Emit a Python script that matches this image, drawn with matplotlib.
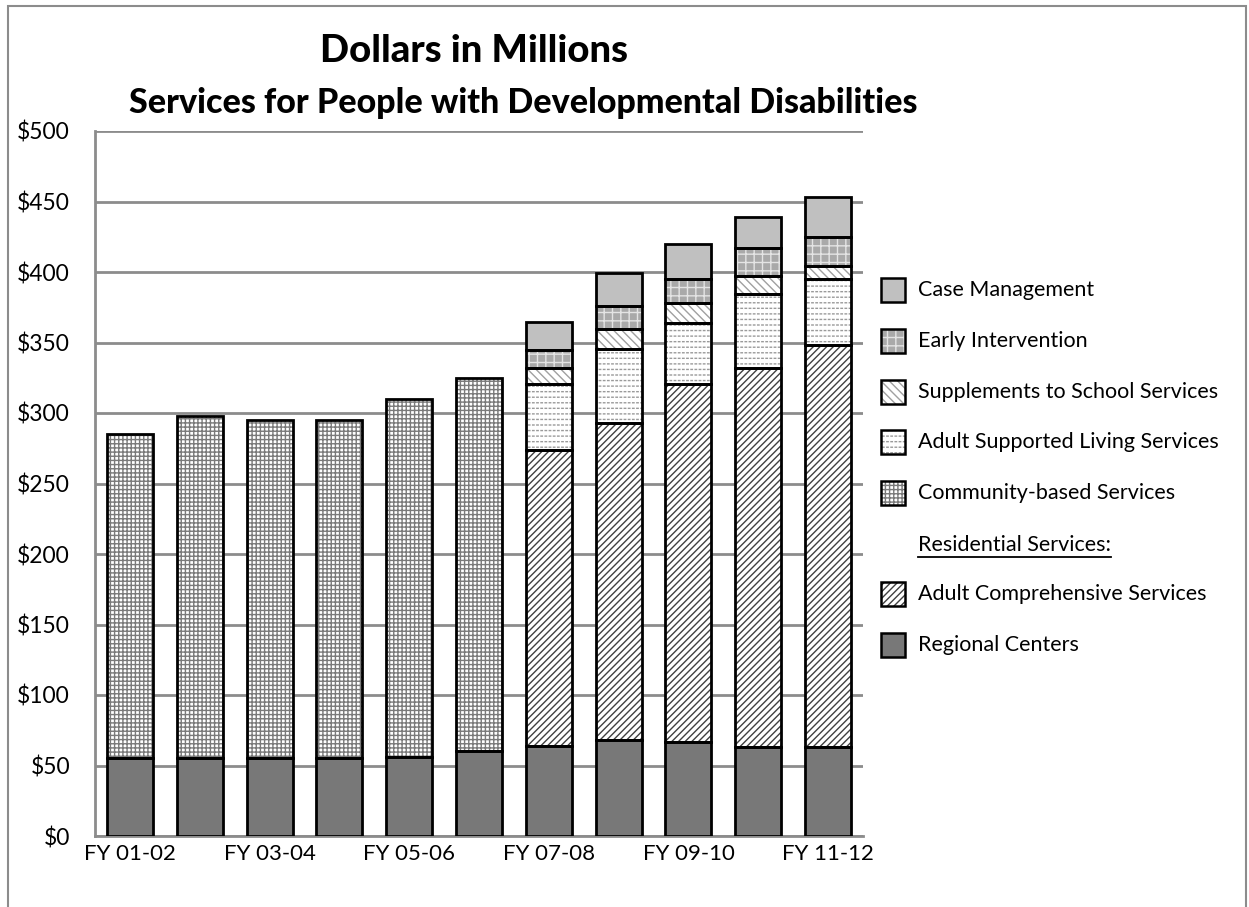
import matplotlib
matplotlib.use("Agg")
import matplotlib.pyplot as plt
from matplotlib.patches import Rectangle
from matplotlib.lines import Line2D
import numpy as np

# Fiscal years and spending (dollars in millions)
years = ["FY 01-02", "FY 02-03", "FY 03-04", "FY 04-05", "FY 05-06", "FY 06-07",
         "FY 07-08", "FY 08-09", "FY 09-10", "FY 10-11", "FY 11-12"]
regional_centers = [55, 55, 55, 55, 56, 60, 64, 68, 67, 63, 63]
adult_comprehensive = [0, 0, 0, 0, 0, 0, 209.5, 225, 253.5, 269, 285]
community_based = [230, 243, 240, 240, 254, 265, 0, 0, 0, 0, 0]
adult_supported_living = [0, 0, 0, 0, 0, 0, 47.3, 52.5, 43.5, 52.7, 47.2]
supplements_school = [0, 0, 0, 0, 0, 0, 11.2, 13.9, 14.0, 12.8, 8.8]
early_intervention = [0, 0, 0, 0, 0, 0, 12.7, 16.4, 17.2, 19.3, 21.0]
case_management = [0, 0, 0, 0, 0, 0, 19.7, 23.5, 24.4, 22.2, 28.4]

yticks = list(range(0, 501, 50))

FONT = "Lato"
W, H = 1249, 907
plt.rcParams["hatch.linewidth"] = 1.0

# (label, values, face colour, hatch, hatch colour, white break pattern)
series = [
    ("Regional Centers", regional_centers, "#787878", "", "#787878", None),
    ("Adult Comprehensive Services", adult_comprehensive, "white", "/////", "#404040", None),
    ("Community-based Services", community_based, "white", "++++", "#7a7a7a", None),
    ("Adult Supported Living Services", adult_supported_living, "white", "---", "#9a9a9a", "||||"),
    ("Supplements to School Services", supplements_school, "white", "\\\\\\\\", "#a0a0a0", None),
    ("Early Intervention", early_intervention, "#a9a9a9", "++", "#e4e4e4", None),
    ("Case Management", case_management, "#c0c0c0", "", "#c0c0c0", None),
]
styles = {s[0]: s[2:] for s in series}

fig = plt.figure(figsize=(W / 100, H / 100), dpi=100)
fig.patch.set_facecolor("white")


def fx(px):
    return px / W


def fy(py):
    return 1 - py / H


# outer chart frame
fig.add_artist(Rectangle((fx(8), fy(1000)), fx(1238), fy(6) - fy(1000),
                         transform=fig.transFigure, fill=False,
                         edgecolor="#8c8c8c", linewidth=1.5))

ax = fig.add_axes([fx(95), fy(836), fx(863) - fx(95), fy(131) - fy(836)])

n = len(years)
x_all = np.arange(n)
width = 0.66
bottom = np.zeros(n)
for label, vals, face, hatch, hc, brk in series:
    v = np.asarray(vals, dtype=float)
    m = v > 0
    ax.bar(x_all[m], v[m], width, bottom=bottom[m], color=face, hatch=hatch,
           edgecolor=hc, linewidth=0, zorder=2)
    if brk:
        # white vertical breaks turn the horizontal hatch into dashes
        ax.bar(x_all[m], v[m], width, bottom=bottom[m], fill=False, hatch=brk,
               edgecolor="white", linewidth=0, zorder=2.5)
    ax.bar(x_all[m], v[m], width, bottom=bottom[m], fill=False,
           edgecolor="black", linewidth=2.0, zorder=3)
    bottom += v

ax.set_xlim(-0.5, n - 0.5)
ax.set_ylim(0, 500)
ax.set_yticks(yticks)
ax.set_yticklabels([f"${t}" for t in yticks], fontfamily=FONT, fontsize=16.5)
ax.set_xticks(x_all[::2])
ax.set_xticklabels(years[::2], fontfamily=FONT, fontsize=16)
ax.tick_params(axis="both", length=0)
ax.tick_params(axis="y", pad=18)
ax.tick_params(axis="x", pad=6)
ax.yaxis.grid(True, color="#8c8c8c", linewidth=2.0, zorder=0)
ax.set_axisbelow(True)
for side in ("top", "right"):
    ax.spines[side].set_visible(False)
for side in ("left", "bottom"):
    ax.spines[side].set_color("#8c8c8c")
    ax.spines[side].set_linewidth(2.0)

# title lines
fig.text(fx(474), fy(51), "Dollars in Millions", ha="center", va="center",
         fontfamily=FONT, fontweight="black", fontsize=27.5)
fig.text(fx(523), fy(103), "Services for People with Developmental Disabilities",
         ha="center", va="center", fontfamily=FONT, fontweight="black", fontsize=24.5)

# legend drawn as a column of swatches with a sub-heading
legend_rows = [
    ("Case Management", 290),
    ("Early Intervention", 341),
    ("Supplements to School Services", 392),
    ("Adult Supported Living Services", 442),
    ("Community-based Services", 493),
    (None, 545),
    ("Adult Comprehensive Services", 594),
    ("Regional Centers", 645),
]
sw = 24
LFS = 15.5
for label, yc in legend_rows:
    if label is None:
        t = fig.text(fx(918), fy(yc), "Residential Services:", ha="left",
                     va="center", fontfamily=FONT, fontsize=LFS)
        continue
    face, hatch, hc, brk = styles[label]
    box = (fx(881), fy(yc + sw / 2))
    bw, bh = fx(sw), fy(0) - fy(sw)
    fig.add_artist(Rectangle(box, bw, bh, transform=fig.transFigure,
                             facecolor=face, hatch=hatch, edgecolor=hc, linewidth=0))
    if brk:
        fig.add_artist(Rectangle(box, bw, bh, transform=fig.transFigure,
                                 fill=False, hatch=brk, edgecolor="white", linewidth=0))
    fig.add_artist(Rectangle(box, bw, bh, transform=fig.transFigure,
                             fill=False, edgecolor="black", linewidth=1.8))
    fig.text(fx(918), fy(yc), label, ha="left", va="center",
             fontfamily=FONT, fontsize=LFS)

fig.canvas.draw()
bb = t.get_window_extent()
uy = bb.y0 - 2
fig.add_artist(Line2D([bb.x0 / W, bb.x1 / W], [uy / H, uy / H],
                      transform=fig.transFigure, color="black", linewidth=1.3))

fig.savefig("out.png", dpi=100, facecolor="white")
